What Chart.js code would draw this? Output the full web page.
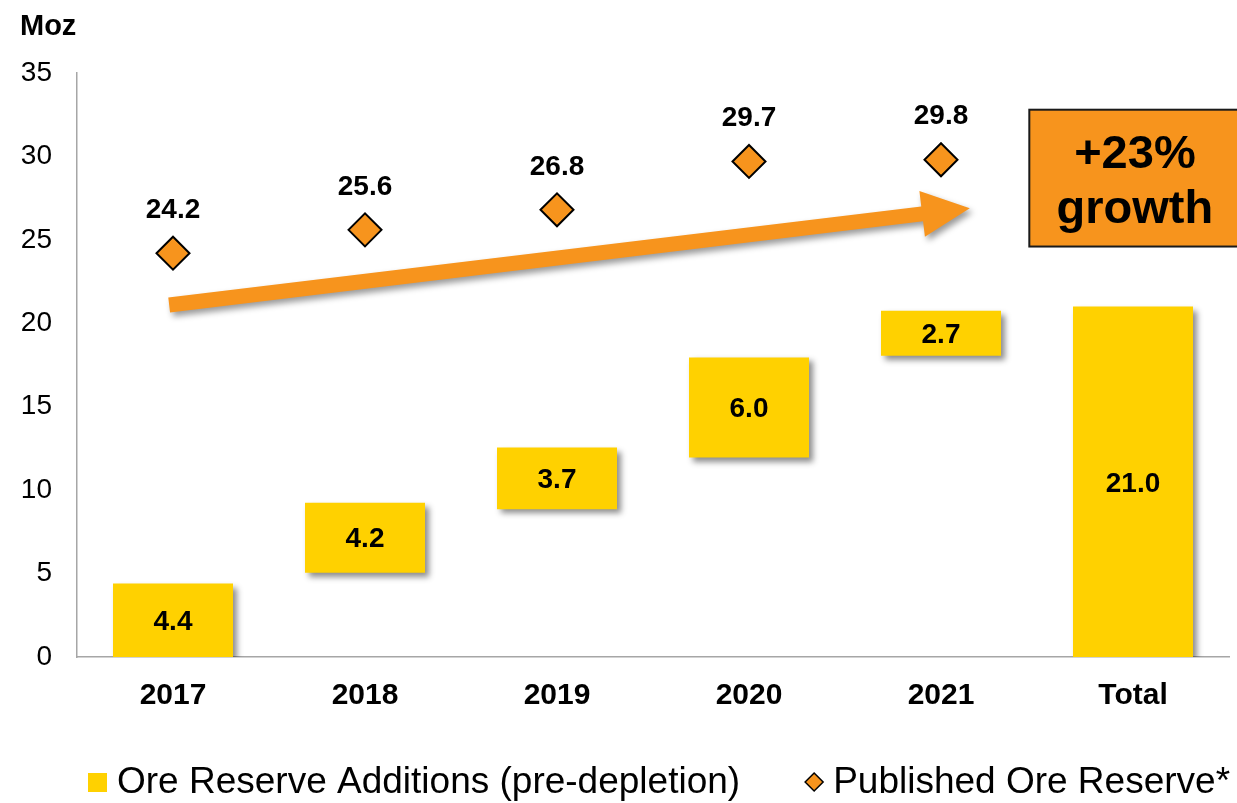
<!DOCTYPE html>
<html>
<head>
<meta charset="utf-8">
<title>Ore Reserve growth</title>
<script src="https://cdn.jsdelivr.net/npm/chart.js@4/dist/chart.umd.min.js"></script>
<style>
  html, body { margin: 0; padding: 0; background: #fff; }
  #wrap { width: 1237px; height: 803px; }
</style>
</head>
<body>
<div id="wrap"><canvas id="reserveChart"></canvas></div>
<script>
// data
const years = ['2017', '2018', '2019', '2020', '2021', 'Total'];
const additionBase = [0, 5.05, 8.85, 11.95, 18.05, 0];   // where each floating bar starts (Moz)
const additions = [4.4, 4.2, 3.7, 6.0, 2.7, 21.0];        // bar heights (Moz)
const publishedReserve = [24.2, 25.6, 26.8, 29.7, 29.8, null];
const yMin = 0, yMax = 35, yStep = 5;

// annotation placement, in axis units (category index, Moz)
const arrowFrom = [-0.02, 21.1];
const arrowTo = [4.15, 26.9];
const growthBox = { fromX: 4.46, toX: 5.56, top: 32.8, bottom: 24.6 };
const growthText = ['+23%', 'growth'];

const FONT = 'Arial, "Liberation Sans", sans-serif';
const YELLOW = '#FFD100';
const ORANGE = '#F7941D';

// shadow behind the yellow bars
const barShadow = {
    id: 'barShadow',
    beforeDatasetDraw(chart, args) {
        if (args.index !== 0) return;
        const ctx = chart.ctx;
        ctx.save();
        ctx.shadowColor = 'rgba(0,0,0,0.45)';
        ctx.shadowBlur = 6;
        ctx.shadowOffsetX = 4;
        ctx.shadowOffsetY = 4;
    },
    afterDatasetDraw(chart, args) {
        if (args.index === 0) chart.ctx.restore();
    }
};

// values on bars and above diamonds
const valueLabels = {
    id: 'valueLabels',
    afterDatasetsDraw(chart) {
        const ctx = chart.ctx;
        ctx.save();
        ctx.fillStyle = '#000';
        ctx.font = 'bold 28px ' + FONT;
        ctx.textAlign = 'center';
        ctx.textBaseline = 'middle';
        chart.getDatasetMeta(0).data.forEach((bar, i) => {
            ctx.fillText(additions[i].toFixed(1), bar.x, (bar.y + bar.base) / 2 + 2);
        });
        chart.getDatasetMeta(1).data.forEach((pt, i) => {
            if (publishedReserve[i] == null) return;
            ctx.fillText(publishedReserve[i].toFixed(1), pt.x, pt.y - 43);
        });
        ctx.restore();
    }
};

// orange trend arrow + growth box + Moz + legend
const extras = {
    id: 'extras',
    afterDatasetsDraw(chart) {
        const ctx = chart.ctx;
        const xs = chart.scales.x, ys = chart.scales.y;

        // arrow
        const x0 = xs.getPixelForValue(arrowFrom[0]), y0 = ys.getPixelForValue(arrowFrom[1]);
        const x1 = xs.getPixelForValue(arrowTo[0]), y1 = ys.getPixelForValue(arrowTo[1]);
        const len = Math.hypot(x1 - x0, y1 - y0);
        const ux = (x1 - x0) / len, uy = (y1 - y0) / len;
        const nx = -uy, ny = ux;
        const shaft = 7.5, head = 23, headLen = 48;
        const bx = x1 - ux * headLen, by = y1 - uy * headLen;
        ctx.save();
        ctx.shadowColor = 'rgba(0,0,0,0.4)';
        ctx.shadowBlur = 6;
        ctx.shadowOffsetX = 3;
        ctx.shadowOffsetY = 4;
        ctx.fillStyle = ORANGE;
        ctx.beginPath();
        ctx.moveTo(x0 + nx * shaft, y0 + ny * shaft);
        ctx.lineTo(bx + nx * shaft, by + ny * shaft);
        ctx.lineTo(bx + nx * head, by + ny * head);
        ctx.lineTo(x1, y1);
        ctx.lineTo(bx - nx * head, by - ny * head);
        ctx.lineTo(bx - nx * shaft, by - ny * shaft);
        ctx.lineTo(x0 - nx * shaft, y0 - ny * shaft);
        ctx.closePath();
        ctx.fill();
        ctx.restore();

        // growth box
        const gl = xs.getPixelForValue(growthBox.fromX), gr = xs.getPixelForValue(growthBox.toX);
        const gt = ys.getPixelForValue(growthBox.top), gb = ys.getPixelForValue(growthBox.bottom);
        ctx.save();
        ctx.fillStyle = ORANGE;
        ctx.fillRect(gl, gt, gr - gl, gb - gt);
        ctx.strokeStyle = '#1a1a1a';
        ctx.lineWidth = 2;
        ctx.strokeRect(gl, gt, gr - gl, gb - gt);
        ctx.fillStyle = '#000';
        ctx.font = 'bold 47px ' + FONT;
        ctx.textAlign = 'center';
        ctx.textBaseline = 'alphabetic';
        const gc = (gl + gr) / 2;
        ctx.fillText(growthText[0], gc, gt + 58);
        ctx.fillText(growthText[1], gc, gt + 113);
        ctx.restore();
    },
    afterDraw(chart) {
        const ctx = chart.ctx;
        ctx.save();
        // unit label
        ctx.fillStyle = '#000';
        ctx.font = 'bold 29px ' + FONT;
        ctx.textAlign = 'left';
        ctx.textBaseline = 'alphabetic';
        ctx.fillText('Moz', 20, 35);

        // legend
        const ly = 782;
        ctx.font = '37px ' + FONT;
        ctx.textBaseline = 'middle';
        let x = 88;
        ctx.fillStyle = YELLOW;
        ctx.fillRect(x, ly - 9, 19, 19);
        ctx.fillStyle = '#000';
        const t1 = chart.data.datasets[0].label;
        ctx.fillText(t1, x + 29, ly + 1);
        x = x + 29 + ctx.measureText(t1).width + 65;
        ctx.beginPath();
        ctx.moveTo(x + 9, ly - 9);
        ctx.lineTo(x + 18, ly);
        ctx.lineTo(x + 9, ly + 9);
        ctx.lineTo(x, ly);
        ctx.closePath();
        ctx.fillStyle = ORANGE;
        ctx.fill();
        ctx.strokeStyle = '#000';
        ctx.lineWidth = 1.5;
        ctx.stroke();
        ctx.fillStyle = '#000';
        ctx.fillText(chart.data.datasets[1].label, x + 28, ly + 1);
        ctx.restore();
    }
};

const ctx = document.getElementById('reserveChart').getContext('2d');
new Chart(ctx, {
    type: 'bar',
    data: {
        labels: years,
        datasets: [
            {
                label: 'Ore Reserve Additions (pre-depletion)',
                data: years.map((y, i) => [additionBase[i], additionBase[i] + additions[i]]),
                backgroundColor: YELLOW,
                borderWidth: 0,
                barPercentage: 0.625,
                categoryPercentage: 1.0,
                order: 2
            },
            {
                type: 'line',
                label: 'Published Ore Reserve*',
                data: publishedReserve,
                showLine: false,
                pointStyle: 'rectRot',
                pointRadius: 16.5,
                pointHoverRadius: 16.5,
                pointBackgroundColor: ORANGE,
                pointBorderColor: '#000',
                pointBorderWidth: 2,
                order: 1
            }
        ]
    },
    options: {
        responsive: true,
        maintainAspectRatio: false,
        animation: false,
        layout: { autoPadding: false, padding: { top: 73, right: 8, bottom: 90, left: 0 } },
        plugins: {
            legend: { display: false },
            tooltip: { enabled: false }
        },
        scales: {
            x: {
                grid: { display: false, drawTicks: false },
                border: { display: true, color: '#a6a6a6', width: 1.5 },
                ticks: { color: '#000', font: { family: FONT, size: 30, weight: 'bold' }, padding: 21 },
                afterFit: s => { s.height = 56; }
            },
            y: {
                min: yMin,
                max: yMax,
                grid: { display: false, drawTicks: false },
                border: { display: true, color: '#a6a6a6', width: 1.5 },
                ticks: { stepSize: yStep, color: '#000', font: { family: FONT, size: 28 }, padding: 25 },
                afterFit: s => { s.width = 77; }
            }
        }
    },
    plugins: [barShadow, valueLabels, extras]
});
</script>
</body>
</html>
